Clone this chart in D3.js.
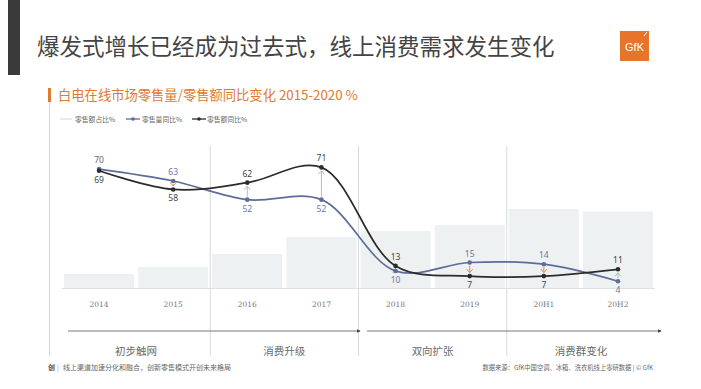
<!DOCTYPE html>
<html><head><meta charset="utf-8">
<script src="https://cdn.jsdelivr.net/npm/d3@7/dist/d3.min.js"></script>
<style>
body{margin:0;background:#fff;}
svg{display:block;font-family:"Noto Sans CJK SC","Noto Sans",sans-serif;}
</style></head><body>
<svg id="c" width="701" height="389"></svg>
<script>
const categories = ["2014","2015","2016","2017","2018","2019","20H1","20H2"];
const shareValues = [8.2, 12.4, 20, 30, 33.5, 37, 46.5, 45];      // 零售额占比%
const volumeYoY  = [70, 63, 52, 52, 10, 15, 14, 4];                // 零售量同比%
const valueYoY   = [69, 58, 62, 71, 13, 7, 7, 11];                 // 零售额同比%
const phases = [
  {name:"初步触网", from:0, to:1},
  {name:"消费升级", from:2, to:3},
  {name:"双向扩张", from:4, to:5},
  {name:"消费群变化", from:6, to:7}
];
const seriesNames = ["零售额占比%","零售量同比%","零售额同比%"];
const title = "爆发式增长已经成为过去式，线上消费需求发生变化";
const subtitle = "白电在线市场零售量/零售额同比变化 2015-2020 %";
const footLeft = "线上渠道加速分化和融合，创新零售模式开创未来格局";
const footRight = "数据来源：GfK中国空调、冰箱、洗衣机线上零研数据  |  © GfK";

const svg = d3.select("#c");
const orange = "#e07a2c", blue = "#5d6c98", dark = "#2b2b2b", barC = "#eef1f1";

// header
svg.append("rect").attr("x",8).attr("y",0).attr("width",12).attr("height",75).attr("fill","#3a3a3a");
svg.append("text").attr("x",37).attr("y",55).attr("font-size",22.5).attr("fill","#444").text(title);
const logo = svg.append("g").attr("transform","translate(620,31)");
logo.append("rect").attr("width",29).attr("height",30).attr("fill","#e8732a");
logo.append("text").attr("x",14.5).attr("y",20).attr("text-anchor","middle").attr("font-size",11)
  .attr("font-family","Liberation Sans, Arial").attr("fill","#fff").text("GfK");
logo.append("line").attr("x1",24).attr("y1",5).attr("x2",27).attr("y2",1).attr("stroke","#fff").attr("stroke-width",1);

// left orange rule
svg.append("line").attr("x1",49.5).attr("x2",49.5).attr("y1",88).attr("y2",356).attr("stroke","#f0cdb4").attr("stroke-width",1);
svg.append("rect").attr("x",48).attr("y",88).attr("width",3).attr("height",14).attr("fill",orange);
svg.append("text").attr("x",58).attr("y",100).attr("font-size",13.3).attr("fill",orange).text(subtitle);

// legend
const lg = svg.append("g").attr("font-size",6.8).attr("fill","#666");
lg.append("line").attr("x1",60).attr("x2",72).attr("y1",119).attr("y2",119).attr("stroke","#e8ebeb").attr("stroke-width",2);
lg.append("text").attr("x",75).attr("y",121.5).text(seriesNames[0]);
[[126,blue,142,seriesNames[1]],[192,dark,207,seriesNames[2]]].forEach(([x,c,tx,t])=>{
  lg.append("line").attr("x1",x).attr("x2",x+14).attr("y1",119).attr("y2",119).attr("stroke",c).attr("stroke-width",1.3);
  lg.append("circle").attr("cx",x+7).attr("cy",119).attr("r",1.8).attr("fill",c);
  lg.append("text").attr("x",tx).attr("y",121.5).text(t);
});

// scales
const x = d3.scaleBand().domain(categories).range([62,655]).paddingInner(0.055).paddingOuter(0.027);
const y = d3.scaleLinear().domain([0,83]).range([288,147]);
const cx = d => x(d)+x.bandwidth()/2;

// bars
svg.append("g").selectAll("rect").data(categories).join("rect")
  .attr("x",d=>x(d)).attr("width",x.bandwidth())
  .attr("y",(d,i)=>y(shareValues[i])).attr("height",(d,i)=>y(0)-y(shareValues[i]))
  .attr("fill",barC);

// baseline
svg.append("line").attr("x1",62).attr("x2",655).attr("y1",288.5).attr("y2",288.5).attr("stroke","#dde1e1").attr("stroke-width",1);

// dividers
const step = x.step();
[2,4,6].forEach(i=>{
  const bx = x(categories[i]) - (step - x.bandwidth())/2;
  svg.append("line").attr("x1",bx).attr("x2",bx).attr("y1",146).attr("y2",356).attr("stroke","#d6dada").attr("stroke-width",1);
});

// x axis labels
const xAxis = d3.axisBottom(x).tickSize(0).tickPadding(0);
const ax = svg.append("g").attr("transform","translate(0,302)").call(xAxis);
ax.select(".domain").remove();
ax.selectAll("text").attr("font-family","'DejaVu Serif','Liberation Serif',serif").attr("font-size",7.5).attr("fill","#777");

// phase arrows
svg.append("defs").append("marker").attr("id","ah").attr("viewBox","0 0 6 6").attr("refX",5).attr("refY",3)
  .attr("markerWidth",5).attr("markerHeight",5).attr("orient","auto")
  .append("path").attr("d","M0,0L6,3L0,6Z").attr("fill","#444");
[[68,360],[367,661]].forEach(([a,b])=>{
  svg.append("line").attr("x1",a).attr("x2",b).attr("y1",331).attr("y2",331).attr("stroke","#555").attr("stroke-width",0.8).attr("marker-end","url(#ah)");
});
phases.forEach(p=>{
  const mx = (cx(categories[p.from])+cx(categories[p.to]))/2;
  svg.append("text").attr("x",mx).attr("y",355).attr("text-anchor","middle").attr("font-size",10.5).attr("fill","#6a6a6a").text(p.name);
});

// compare arrows
const ag = svg.append("g");
categories.forEach((c,i)=>{
  const a = volumeYoY[i], b = valueYoY[i];
  if (Math.abs(a-b) < 2) return;
  const col = b > a ? "#aebfbd" : "#e8903f";
  const y1 = y(a) + (b>a?-3:3), y2 = y(b) + (b>a?3.5:-3.5);
  const X = cx(c);
  ag.append("line").attr("x1",X).attr("x2",X).attr("y1",y1).attr("y2",y2).attr("stroke",col).attr("stroke-width",1);
  const dir = b>a?1:-1;
  ag.append("path").attr("d",`M${X-3},${y2+dir*3.5}L${X},${y2}L${X+3},${y2+dir*3.5}`).attr("fill","none").attr("stroke",col).attr("stroke-width",1);
});

// lines
const line = d3.line().x((d,i)=>cx(categories[i])).y(d=>y(d)).curve(d3.curveCatmullRom.alpha(0.5));
[[volumeYoY,blue],[valueYoY,dark]].forEach(([vals,col])=>{
  svg.append("path").datum(vals).attr("d",line).attr("fill","none").attr("stroke",col).attr("stroke-width",1.7);
  svg.append("g").selectAll("circle").data(vals).join("circle")
    .attr("cx",(d,i)=>cx(categories[i])).attr("cy",d=>y(d)).attr("r",2.3).attr("fill",col);
});

// value labels
const lab = svg.append("g").attr("font-size",8.5).attr("text-anchor","middle").attr("font-family","'Noto Sans','Open Sans',sans-serif");
categories.forEach((c,i)=>{
  const a = volumeYoY[i], b = valueYoY[i];
  const X = cx(c);
  const hiVol = a >= b;
  lab.append("text").attr("x",X).attr("y", hiVol ? y(a)-6 : y(a)+12).attr("fill", i==0?"#666":"#6a77a0").text(a);
  lab.append("text").attr("x",X).attr("y", hiVol ? y(b)+12 : y(b)-6).attr("fill","#444").text(b);
});

// footer
const ft = svg.append("g").attr("font-size",7).attr("fill","#666");
ft.append("text").attr("x",48).attr("y",370).attr("font-weight","bold").attr("fill","#555").text("创");
ft.append("text").attr("x",57).attr("y",370).attr("fill","#999").text("|");
ft.append("text").attr("x",63).attr("y",370).text(footLeft);
ft.append("text").attr("x",653).attr("y",370).attr("text-anchor","end").attr("font-size",6.3).text(footRight);
</script>
</body></html>
